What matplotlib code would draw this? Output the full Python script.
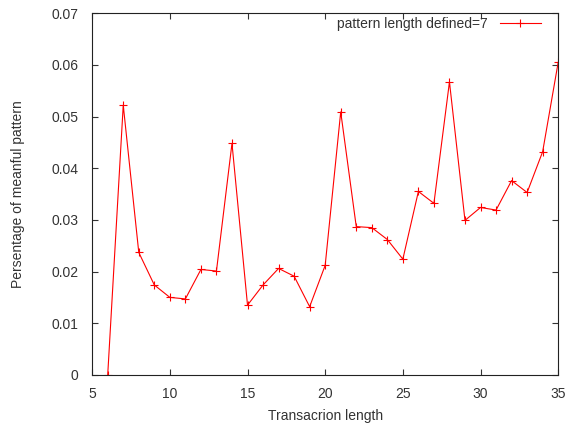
import matplotlib
matplotlib.use('Agg')
import matplotlib.pyplot as plt

# data
trans_len = [6, 7, 8, 9, 10, 11, 12, 13, 14, 15, 16, 17, 18, 19, 20,
             21, 22, 23, 24, 25, 26, 27, 28, 29, 30, 31, 32, 33, 34, 35]
pct = [0.0, 0.0522, 0.0237, 0.0174, 0.0150, 0.0147, 0.0204, 0.0201, 0.0448, 0.0135,
       0.0174, 0.0206, 0.0191, 0.0132, 0.0212, 0.0509, 0.0287, 0.0285, 0.0262, 0.0224,
       0.0355, 0.0332, 0.0567, 0.0299, 0.0324, 0.0319, 0.0376, 0.0353, 0.0432, 0.0605]
xticks = [5, 10, 15, 20, 25, 30, 35]
yticks = [0, 0.01, 0.02, 0.03, 0.04, 0.05, 0.06, 0.07]
ytick_labels = ['0', '0.01', '0.02', '0.03', '0.04', '0.05', '0.06', '0.07']

plt.rcParams['font.family'] = ['Liberation Sans', 'DejaVu Sans']
fig = plt.figure(figsize=(5.69, 4.26), dpi=100)
ax = fig.add_axes([0.162, 0.120, 0.819, 0.849])

ax.plot(trans_len, pct, color='#ff0000', linewidth=0.8, marker='+',
        markersize=5.5, markeredgewidth=0.8, label='pattern length defined=7')

ax.set_xlim(5, 35)
ax.set_ylim(0, 0.07)
ax.set_xticks(xticks)
ax.set_yticks(yticks)
ax.set_yticklabels(ytick_labels)
ax.tick_params(direction='in', top=True, right=True, length=4.5, width=0.8,
               labelsize=10, colors='#333333')
ax.tick_params(axis='y', pad=10)
ax.tick_params(axis='x', pad=9)
for s in ax.spines.values():
    s.set_linewidth(0.8)
    s.set_color('#222222')

ax.set_xlabel('Transacrion length', fontsize=10, color='#333333')
ax.set_ylabel('Persentage of meanful pattern', fontsize=10, color='#333333')
ax.xaxis.set_label_coords(0.5, -41 / 362)
ax.xaxis.label.set_va('center')
ax.yaxis.set_label_coords(-74 / 466, 0.5)
ax.yaxis.label.set_va('center')

leg = ax.legend(loc='upper right', bbox_to_anchor=(1 - 17 / 466, 1 - 4 / 362),
                frameon=False, fontsize=10, markerfirst=False,
                handlelength=3.0, handletextpad=0.85, borderpad=0, borderaxespad=0)
for t in leg.get_texts():
    t.set_color('#333333')

fig.savefig('out.png', dpi=100)
